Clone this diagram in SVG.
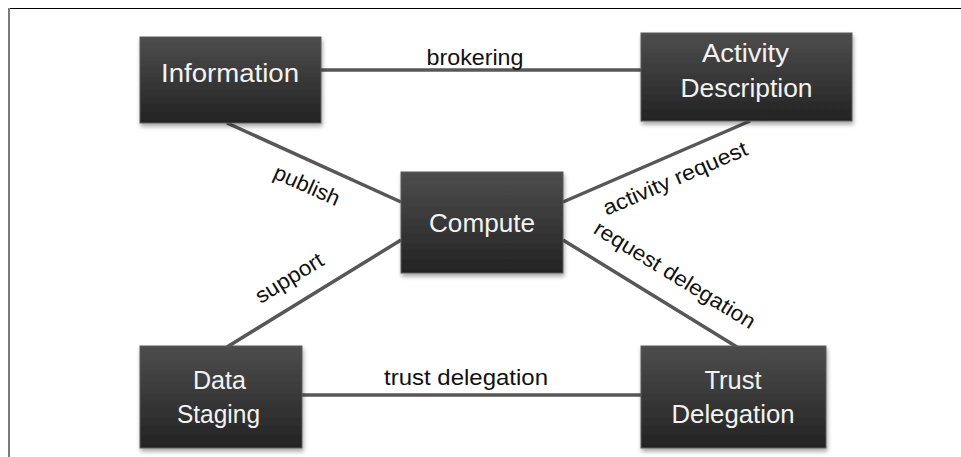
<svg xmlns="http://www.w3.org/2000/svg" width="961" height="457" viewBox="0 0 961 457">
  <defs>
    <linearGradient id="boxGrad" x1="0" y1="0" x2="0" y2="1">
      <stop offset="0" stop-color="#4d4d4d"/>
      <stop offset="1" stop-color="#232323"/>
    </linearGradient>
    <filter id="shadow" x="-10%" y="-10%" width="125%" height="130%">
      <feDropShadow dx="1" dy="3" stdDeviation="2" flood-color="#000" flood-opacity="0.35"/>
    </filter>
  </defs>
  <style>
    .box { fill: url(#boxGrad); stroke: #5a5a5a; stroke-width: 1; filter: url(#shadow); }
    .nlabel { font-family: "Liberation Sans", Arial, sans-serif; font-size: 25px; fill: #f2f2f2; text-anchor: middle; }
    .conn { stroke: #575757; stroke-width: 3.5; fill: none; }
    .elabel { font-family: "Liberation Sans", Arial, sans-serif; font-size: 21.5px; fill: #111; text-anchor: middle; }
  </style>
  <rect x="0" y="0" width="961" height="457" fill="#ffffff"/>
  <g id="frame">
    <line x1="8" y1="8.5" x2="961" y2="8.5" stroke="#000" stroke-width="1.2"/>
    <line x1="9" y1="8" x2="9" y2="457" stroke="#7a7a7a" stroke-width="2"/>
  </g>
  <g id="connectors">
    <line class="conn" x1="321" y1="70" x2="641" y2="70"/>
    <line class="conn" x1="227" y1="123" x2="401" y2="202"/>
    <line class="conn" x1="401" y1="240" x2="227" y2="347"/>
    <line class="conn" x1="563" y1="202" x2="750" y2="121"/>
    <line class="conn" x1="563" y1="240" x2="737" y2="347"/>
    <line class="conn" x1="302" y1="395" x2="641" y2="395"/>
    <text class="elabel" x="475" y="65" textLength="97" lengthAdjust="spacingAndGlyphs">brokering</text>
    <text class="elabel" x="466" y="385" textLength="164" lengthAdjust="spacingAndGlyphs">trust delegation</text>
    <text class="elabel" transform="translate(304,192) rotate(24.1)" x="0" y="0" textLength="70" lengthAdjust="spacingAndGlyphs">publish</text>
    <text class="elabel" transform="translate(293,284) rotate(-31.6)" x="0" y="0" textLength="76" lengthAdjust="spacingAndGlyphs">support</text>
    <text class="elabel" transform="translate(678,185) rotate(-23.4)" x="0" y="0" textLength="155" lengthAdjust="spacingAndGlyphs">activity request</text>
    <text class="elabel" transform="translate(671,281) rotate(31.6)" x="0" y="0" textLength="185" lengthAdjust="spacingAndGlyphs">request delegation</text>
  </g>
  <g id="node-information">
    <rect class="box" x="140" y="37" width="181" height="86"/>
    <text class="nlabel" x="230" y="82" textLength="138" lengthAdjust="spacingAndGlyphs">Information</text>
  </g>
  <g id="node-activity-description">
    <rect class="box" x="641" y="33" width="211" height="88"/>
    <text class="nlabel" x="745.5" y="62" textLength="87" lengthAdjust="spacingAndGlyphs">Activity</text>
    <text class="nlabel" x="746.5" y="97" textLength="132" lengthAdjust="spacingAndGlyphs">Description</text>
  </g>
  <g id="node-compute">
    <rect class="box" x="401" y="172" width="162" height="101"/>
    <text class="nlabel" x="482" y="232" textLength="106" lengthAdjust="spacingAndGlyphs">Compute</text>
  </g>
  <g id="node-data-staging">
    <rect class="box" x="140" y="346" width="162" height="102"/>
    <text class="nlabel" x="219.5" y="389" textLength="53" lengthAdjust="spacingAndGlyphs">Data</text>
    <text class="nlabel" x="218.5" y="423" textLength="83" lengthAdjust="spacingAndGlyphs">Staging</text>
  </g>
  <g id="node-trust-delegation">
    <rect class="box" x="641" y="346" width="185" height="102"/>
    <text class="nlabel" x="733" y="389" textLength="57" lengthAdjust="spacingAndGlyphs">Trust</text>
    <text class="nlabel" x="733" y="423" textLength="123" lengthAdjust="spacingAndGlyphs">Delegation</text>
  </g>
</svg>
